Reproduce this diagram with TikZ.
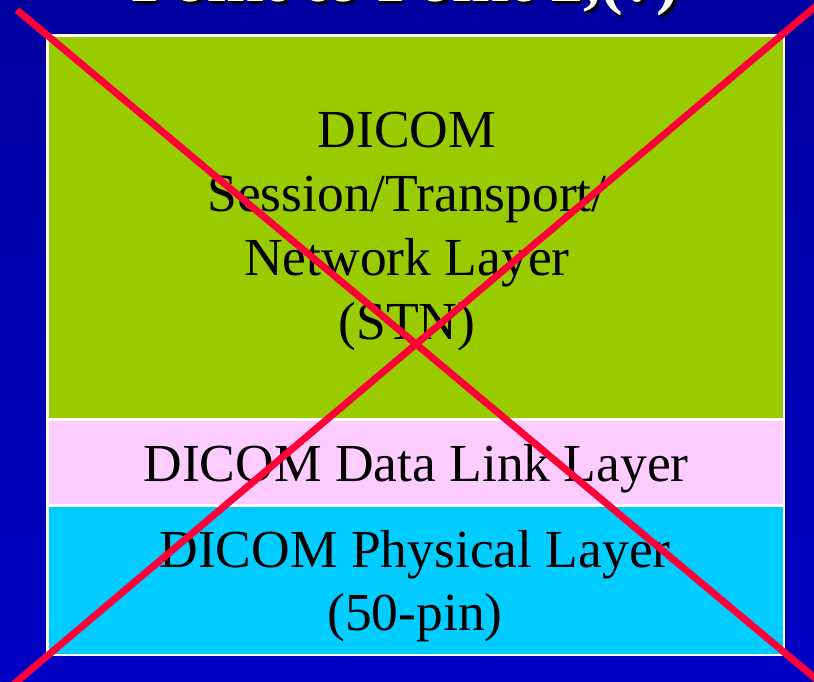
\documentclass[tikz,border=0pt]{standalone}
\usepackage{fontspec}
\setmainfont{Liberation Serif}
\definecolor{bgtop}{HTML}{0000A0}
\definecolor{bgmid}{HTML}{0000FF}
\definecolor{bgbot}{HTML}{0000C4}
\definecolor{stngreen}{HTML}{99CC00}
\definecolor{linkpink}{HTML}{FFCCFF}
\definecolor{physcyan}{HTML}{00CCFF}
\definecolor{crossred}{HTML}{FF0038}
\tikzset{
  layerbox/.style={draw=white, line width=2.6pt},
  layertext/.style={anchor=base, inner sep=0pt, font=\fontsize{53.5}{64}\selectfont, text=black},
  titletext/.style={anchor=base, inner sep=0pt, font=\fontsize{68}{80}\selectfont\bfseries},
  crossline/.style={draw=crossred, line width=7pt}
}
\begin{document}
\begin{tikzpicture}[x=1pt,y=-1pt]
  % page and blue backdrop
  \useasboundingbox (0,0) rectangle (814,681);
  \shade[top color=bgtop, middle color=bgmid, bottom color=bgbot] (0,0) rectangle (814,681);

  % slide title, mostly above the page edge
  \node[titletext, text=black] (titleshadow) at (408,4.5) {Point to Point 2,(?)};
  \node[titletext, text=white] (title) at (405.5,1.5) {Point to Point 2,(?)};

  % protocol stack layers
  \path[layerbox, fill=stngreen] (47.5,35.2) rectangle (783.8,419.3);
  \path[layerbox, fill=linkpink] (47.5,419.3) rectangle (783.8,505.3);
  \path[layerbox, fill=physcyan] (47.5,505.3) rectangle (783.8,655);

  \node[layertext] (stnA) at (407,147.7) {DICOM};
  \node[layertext] (stnB) at (407,211.5) {Session/Transport/};
  \node[layertext] (stnC) at (407,275.3) {Network Layer};
  \node[layertext] (stnD) at (407,339.1) {(STN)};

  \node[layertext] (link) at (416,481) {DICOM Data Link Layer};

  \node[layertext] (physA) at (415,567.3) {DICOM Physical Layer};
  \node[layertext] (physB) at (415,630.5) {(50-pin)};

  % crossing-out strokes
  \coordinate (xa1) at (17,10);
  \coordinate (xa2) at (822,684);
  \coordinate (xb1) at (822,1);
  \coordinate (xb2) at (14,684);
  \draw[crossline] (xa1) -- (xa2);
  \draw[crossline] (xb1) -- (xb2);
\end{tikzpicture}
\end{document}
